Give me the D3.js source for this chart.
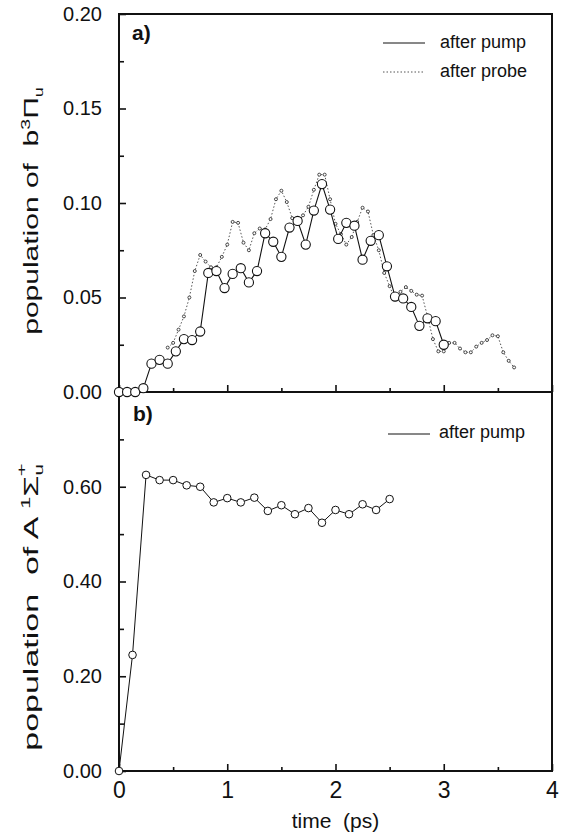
<html>
<head>
  <script src="https://d3js.org/d3.v7.min.js"></script>
  <style>
    body { margin: 0; background: #fff; }
    text { font-family: "Liberation Sans", Arial, Helvetica, sans-serif; fill: #111; }
    .frame { fill: none; stroke: #111; stroke-width: 2; }
    .tick line { stroke: #111; stroke-width: 1.6; }
    .title { white-space: pre; }
  </style>
</head>
<body>
<svg id="chart" width="566" height="835"></svg>
<script>
  // panel a) population of b3Pi_u
  const pumpTimeA = [0, 0.075, 0.15, 0.225, 0.3, 0.375, 0.45, 0.525, 0.6, 0.675, 0.75, 0.825, 0.9, 0.975,
    1.05, 1.125, 1.2, 1.275, 1.35, 1.425, 1.5, 1.575, 1.65, 1.725, 1.8, 1.875, 1.95, 2.025, 2.1, 2.175,
    2.25, 2.325, 2.4, 2.475, 2.55, 2.625, 2.7, 2.775, 2.85, 2.925, 3.0];
  const pumpPopA = [0, 0, 0, 0.002, 0.015, 0.017, 0.015, 0.0215, 0.028, 0.0275, 0.032, 0.063, 0.064, 0.055,
    0.0625, 0.0655, 0.058, 0.064, 0.084, 0.0795, 0.0715, 0.087, 0.0905, 0.078, 0.096, 0.110, 0.0965, 0.081,
    0.0895, 0.088, 0.070, 0.080, 0.083, 0.0665, 0.0505, 0.0495, 0.045, 0.035, 0.039, 0.0375, 0.025];

  const probeTimeA = [0.45, 0.5, 0.55, 0.6, 0.65, 0.7, 0.75, 0.8, 0.85, 0.9, 0.95, 1.0, 1.05, 1.1, 1.15, 1.2,
    1.25, 1.3, 1.35, 1.4, 1.45, 1.5, 1.55, 1.6, 1.65, 1.7, 1.75, 1.8, 1.85, 1.9, 1.95, 2.0, 2.05, 2.1, 2.15,
    2.2, 2.25, 2.3, 2.35, 2.4, 2.45, 2.5, 2.55, 2.6, 2.65, 2.7, 2.75, 2.8, 2.85, 2.9, 2.95, 3.0, 3.05, 3.1,
    3.15, 3.2, 3.25, 3.3, 3.35, 3.4, 3.45, 3.5, 3.55, 3.6, 3.65];
  const probePopA = [0.0235, 0.026, 0.033, 0.040, 0.050, 0.064, 0.0725, 0.069, 0.066, 0.066, 0.0715, 0.078,
    0.090, 0.0895, 0.079, 0.075, 0.084, 0.0865, 0.086, 0.0915, 0.102, 0.1065, 0.1005, 0.092, 0.089, 0.0935,
    0.098, 0.107, 0.115, 0.115, 0.102, 0.089, 0.0835, 0.078, 0.082, 0.090, 0.0975, 0.0955, 0.083, 0.075,
    0.063, 0.056, 0.049, 0.053, 0.0555, 0.0535, 0.0515, 0.051, 0.040, 0.028, 0.0215, 0.0215, 0.026, 0.026,
    0.023, 0.021, 0.021, 0.024, 0.026, 0.0275, 0.030, 0.0295, 0.021, 0.0165, 0.013];

  // panel b) population of A1Sigma_u+
  const pumpTimeB = [0, 0.125, 0.25, 0.375, 0.5, 0.625, 0.75, 0.875, 1.0, 1.125, 1.25, 1.375, 1.5, 1.625,
    1.75, 1.875, 2.0, 2.125, 2.25, 2.375, 2.5];
  const pumpPopB = [0, 0.245, 0.625, 0.614, 0.614, 0.603, 0.600, 0.567, 0.576, 0.567, 0.577, 0.549, 0.561,
    0.542, 0.555, 0.524, 0.551, 0.542, 0.563, 0.551, 0.574];

  const xMajor = [0, 1, 2, 3, 4];
  const xMinor = [0.5, 1.5, 2.5, 3.5];
  const yMajorA = [0, 0.05, 0.10, 0.15, 0.20];
  const yMinorA = [0.025, 0.075, 0.125, 0.175];
  const yMajorB = [0, 0.2, 0.4, 0.6];
  const yMinorB = [0.1, 0.3, 0.5, 0.7];

  const svg = d3.select("#chart");
  const plotLeft = 119, plotRight = 552, plotTop = 14, plotMid = 392, plotBottom = 771;

  const x = d3.scaleLinear().domain([0, 4]).range([plotLeft, plotRight]);
  const yA = d3.scaleLinear().domain([0, 0.2]).range([plotMid, plotTop]);
  const yB = d3.scaleLinear().domain([0, 0.8]).range([plotBottom, plotMid]);

  // ticks point inward
  function yAxis(scale, major, minor, fmt) {
    svg.append("g").attr("transform", `translate(${plotLeft},0)`)
      .call(d3.axisLeft(scale).tickValues(minor).tickSize(-5).tickFormat(""))
      .call(g => g.select(".domain").remove());
    const g = svg.append("g").attr("transform", `translate(${plotLeft},0)`)
      .call(d3.axisLeft(scale).tickValues(major).tickSize(-7).tickPadding(17).tickFormat(fmt))
      .call(g => g.select(".domain").remove());
    g.selectAll("text").attr("font-size", 20).attr("font-family", null);
  }
  yAxis(yA, yMajorA, yMinorA, d3.format(".2f"));
  yAxis(yB, yMajorB, yMinorB, d3.format(".2f"));

  function xAxis(yPos, labels) {
    svg.append("g").attr("transform", `translate(0,${yPos})`)
      .call(d3.axisBottom(x).tickValues(xMinor).tickSize(-4).tickFormat(""))
      .call(g => g.select(".domain").remove());
    const g = svg.append("g").attr("transform", `translate(0,${yPos})`)
      .call(d3.axisBottom(x).tickValues(xMajor).tickSize(-7).tickPadding(11)
        .tickFormat(labels ? d3.format("d") : ""))
      .call(g => g.select(".domain").remove());
    g.selectAll("text").attr("font-size", 23).attr("font-family", null);
  }
  xAxis(plotMid, false);
  xAxis(plotBottom, true);

  // frame
  svg.append("rect").attr("class", "frame")
    .attr("x", plotLeft).attr("y", plotTop)
    .attr("width", plotRight - plotLeft).attr("height", plotBottom - plotTop);
  svg.append("line").attr("class", "frame")
    .attr("x1", plotLeft).attr("x2", plotRight).attr("y1", plotMid).attr("y2", plotMid);

  // series
  const probeA = probeTimeA.map((t, i) => [t, probePopA[i]]);
  const pumpA = pumpTimeA.map((t, i) => [t, pumpPopA[i]]);
  const pumpB = pumpTimeB.map((t, i) => [t, pumpPopB[i]]);

  svg.append("path").datum(probeA)
    .attr("fill", "none").attr("stroke", "#555").attr("stroke-width", 1)
    .attr("stroke-dasharray", "1.5,2")
    .attr("d", d3.line().x(d => x(d[0])).y(d => yA(d[1])));
  svg.selectAll("circle.probe").data(probeA).join("circle")
    .attr("class", "probe")
    .attr("cx", d => x(d[0])).attr("cy", d => yA(d[1])).attr("r", 1.5)
    .attr("fill", "#fff").attr("stroke", "#333").attr("stroke-width", 0.9);

  svg.append("path").datum(pumpA)
    .attr("fill", "none").attr("stroke", "#111").attr("stroke-width", 1.1)
    .attr("d", d3.line().x(d => x(d[0])).y(d => yA(d[1])));
  svg.selectAll("circle.pumpA").data(pumpA).join("circle")
    .attr("class", "pumpA")
    .attr("cx", d => x(d[0])).attr("cy", d => yA(d[1])).attr("r", 4.6)
    .attr("fill", "#fff").attr("stroke", "#111").attr("stroke-width", 1.1);

  svg.append("path").datum(pumpB)
    .attr("fill", "none").attr("stroke", "#111").attr("stroke-width", 1)
    .attr("d", d3.line().x(d => x(d[0])).y(d => yB(d[1])));
  svg.selectAll("circle.pumpB").data(pumpB).join("circle")
    .attr("class", "pumpB")
    .attr("cx", d => x(d[0])).attr("cy", d => yB(d[1])).attr("r", 3.8)
    .attr("fill", "#fff").attr("stroke", "#111").attr("stroke-width", 1);

  // panel letters
  svg.append("text").attr("x", 132).attr("y", 40).attr("font-size", 21).attr("font-weight", "bold").text("a)");
  svg.append("text").attr("x", 133).attr("y", 421).attr("font-size", 21).attr("font-weight", "bold").text("b)");

  // legends
  svg.append("line").attr("x1", 383).attr("x2", 425).attr("y1", 43).attr("y2", 43)
    .attr("stroke", "#111").attr("stroke-width", 1);
  svg.append("text").attr("x", 440).attr("y", 48).attr("font-size", 18).text("after pump");
  svg.append("line").attr("x1", 383).attr("x2", 425).attr("y1", 72).attr("y2", 72)
    .attr("stroke", "#555").attr("stroke-width", 1).attr("stroke-dasharray", "1.5,2");
  svg.append("text").attr("x", 440).attr("y", 77).attr("font-size", 18).text("after probe");
  svg.append("line").attr("x1", 388).attr("x2", 430).attr("y1", 434).attr("y2", 434)
    .attr("stroke", "#111").attr("stroke-width", 1);
  svg.append("text").attr("x", 439).attr("y", 438).attr("font-size", 18).text("after pump");

  // axis titles
  svg.append("text").attr("class", "title").attr("x", x(2)).attr("y", 828).attr("font-size", 21)
    .attr("text-anchor", "middle").text("time  (ps)");

  // y titles are drawn stretched along their length, as in the scanned figure
  const tA = svg.append("text").attr("class", "title")
    .attr("transform", `translate(38,211) rotate(-90) scale(1.5,1)`)
    .attr("font-size", 20).attr("text-anchor", "middle");
  tA.append("tspan").text("population of  b");
  tA.append("tspan").attr("dy", -8).attr("font-size", 13).text("3");
  tA.append("tspan").attr("dy", 8).text("\u03A0");
  tA.append("tspan").attr("dy", 5).attr("font-size", 12).text("u");

  const tB = svg.append("text").attr("class", "title")
    .attr("transform", `translate(38,607) rotate(-90) scale(1.7,1)`)
    .attr("font-size", 20).attr("text-anchor", "middle");
  tB.append("tspan").text("population  of A ");
  tB.append("tspan").attr("dy", -8).attr("font-size", 13).text("1");
  tB.append("tspan").attr("dy", 8).text("\u03A3");
  tB.append("tspan").attr("dy", 5).attr("font-size", 12).text("u");
  tB.append("tspan").attr("dx", -7).attr("dy", -17).attr("font-size", 13).text("+");
</script>
</body>
</html>
